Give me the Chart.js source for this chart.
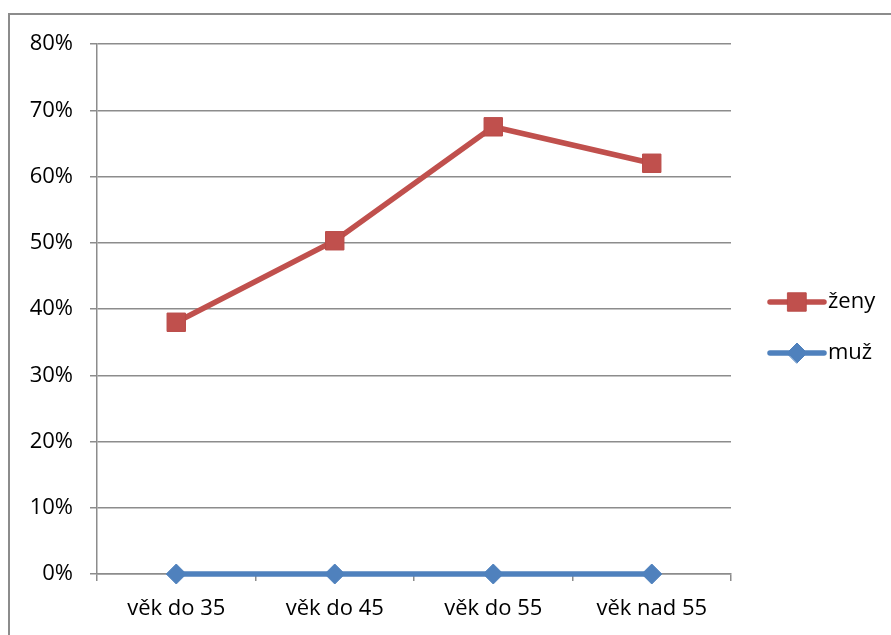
<!DOCTYPE html>
<html>
<head>
<meta charset="utf-8">
<script src="https://cdn.jsdelivr.net/npm/chart.js@4/dist/chart.umd.min.js"></script>
<style>
  html, body { margin: 0; padding: 0; background: #ffffff; }
  #wrap { width: 891px; height: 635px; position: relative; }
</style>
</head>
<body>
<div id="wrap"><canvas id="c" width="891" height="635"></canvas></div>
<script>
// Age groups on the x axis
const categories = ['věk do 35', 'věk do 45', 'věk do 55', 'věk nad 55'];
// Share per age group (percent)
const zenyValues = [38.0, 50.3, 67.5, 62.0];
const muzValues = [0, 0, 0, 0];
const seriesNames = ['ženy', 'muž'];
// Y axis range and step (percent)
const yMin = 0, yMax = 80, yStep = 10;

const RED = '#C0504D';
const BLUE = '#4F81BD';
const GRID = '#8c8c8c';
const FONT = '"Open Sans", Lato, "Noto Sans", sans-serif';
const FONT_SIZE = 22;

// Outer frame of the chart object
const framePlugin = {
  id: 'frame',
  beforeDraw(chart) {
    const ctx = chart.ctx;
    ctx.save();
    ctx.strokeStyle = GRID;
    ctx.lineWidth = 2;
    ctx.strokeRect(9, 14, 1000, 1000);
    ctx.restore();
  }
};

// Legend on the right: a short line with the series marker in its middle
const sideLegend = {
  id: 'sideLegend',
  afterDraw(chart) {
    const ctx = chart.ctx;
    const x0 = 770, x1 = 824, tx = 828;
    const rows = [302, 353];
    chart.data.datasets.forEach((ds, i) => {
      const y = rows[i];
      const cx = (x0 + x1) / 2;
      ctx.save();
      ctx.strokeStyle = ds.borderColor;
      ctx.lineWidth = ds.borderWidth;
      ctx.lineCap = 'round';
      ctx.beginPath();
      ctx.moveTo(x0, y);
      ctx.lineTo(x1, y);
      ctx.stroke();
      ctx.fillStyle = ds.pointBackgroundColor;
      ctx.strokeStyle = ds.pointBorderColor;
      ctx.lineWidth = ds.pointBorderWidth;
      ctx.beginPath();
      if (ds.pointStyle === 'rect') {
        const s = Math.SQRT1_2 * ds.pointRadius;
        ctx.rect(cx - s, y - s, 2 * s, 2 * s);
      } else {
        const r = ds.pointRadius;
        ctx.moveTo(cx - r, y); ctx.lineTo(cx, y - r);
        ctx.lineTo(cx + r, y); ctx.lineTo(cx, y + r); ctx.closePath();
      }
      ctx.fill();
      ctx.stroke();
      ctx.fillStyle = '#000000';
      ctx.font = FONT_SIZE + 'px ' + FONT;
      ctx.textBaseline = 'middle';
      ctx.textAlign = 'left';
      ctx.fillText(ds.label, tx, y);
      ctx.restore();
    });
  }
};

new Chart(document.getElementById('c'), {
  type: 'line',
  data: {
    labels: categories,
    datasets: [
      {
        label: seriesNames[0],
        data: zenyValues,
        borderColor: RED,
        backgroundColor: RED,
        borderWidth: 5.5,
        pointStyle: 'rect',
        pointRadius: 13,
        pointHoverRadius: 13,
        pointBackgroundColor: RED,
        pointBorderColor: '#b94a47',
        pointBorderWidth: 1,
        tension: 0,
        clip: false
      },
      {
        label: seriesNames[1],
        data: muzValues,
        borderColor: BLUE,
        backgroundColor: BLUE,
        borderWidth: 5.5,
        pointStyle: 'rectRot',
        pointRadius: 10,
        pointHoverRadius: 10,
        pointBackgroundColor: BLUE,
        pointBorderColor: BLUE,
        pointBorderWidth: 1,
        tension: 0,
        clip: false
      }
    ]
  },
  options: {
    responsive: false,
    animation: false,
    devicePixelRatio: 1,
    layout: { padding: { top: 44, right: 160, left: 0, bottom: 0 } },
    plugins: {
      legend: { display: false },
      tooltip: { enabled: false }
    },
    scales: {
      x: {
        offset: true,
        grid: {
          offset: true,
          drawOnChartArea: false,
          drawTicks: true,
          tickLength: 7,
          color: GRID,
          lineWidth: 1.5
        },
        border: { display: true, color: GRID, width: 1.5 },
        ticks: { color: '#000000', font: { family: FONT, size: FONT_SIZE }, padding: 15, maxRotation: 0 },
        afterFit(scale) { scale.height = 61; }
      },
      y: {
        min: yMin,
        max: yMax,
        grid: {
          color: GRID,
          lineWidth: 1.5,
          drawTicks: true,
          tickLength: 7
        },
        border: { display: true, color: GRID, width: 1.5 },
        ticks: {
          stepSize: yStep,
          color: '#000000',
          font: { family: FONT, size: FONT_SIZE },
          padding: 17,
          callback: v => v + '%'
        },
        afterFit(scale) { scale.width = 97; }
      }
    }
  },
  plugins: [framePlugin, sideLegend]
});
</script>
</body>
</html>
